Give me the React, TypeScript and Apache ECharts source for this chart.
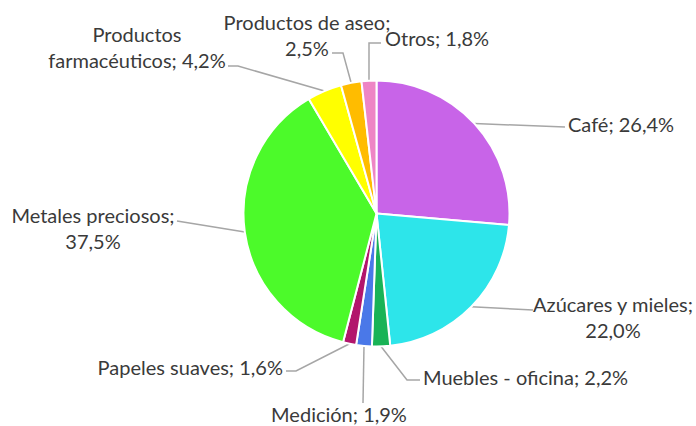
import React, { useEffect, useRef } from "react";
import * as echarts from "echarts";

const categories = [
  "Café",
  "Azúcares y mieles",
  "Muebles - oficina",
  "Medición",
  "Papeles suaves",
  "Metales preciosos",
  "Productos farmacéuticos",
  "Productos de aseo",
  "Otros",
];
const values = [26.4, 22.0, 2.2, 1.9, 1.6, 37.5, 4.2, 2.5, 1.8];
const labelTexts = [
  "Café; 26,4%",
  "Azúcares y mieles;\n22,0%",
  "Muebles - oficina; 2,2%",
  "Medición; 1,9%",
  "Papeles suaves; 1,6%",
  "Metales preciosos;\n37,5%",
  "Productos\nfarmacéuticos; 4,2%",
  "Productos de aseo;\n2,5%",
  "Otros; 1,8%",
];
const colors = [
  "#C864E8",
  "#2DE5EA",
  "#19B356",
  "#4A78E8",
  "#B2166C",
  "#4CFA2A",
  "#FFFF00",
  "#FFBC00",
  "#EE85C5",
];

// label placement (layout only): anchor x,y, align, line height, extra leader-line points after the slice edge
const labelPlacement: { x: number; y: number; align: string; lh: number; pts: number[][] }[] = [
  { x: 568, y: 124, align: "left", lh: 26, pts: [[565, 127]] },
  { x: 613, y: 317, align: "center", lh: 26, pts: [[533, 310]] },
  { x: 423, y: 377, align: "left", lh: 26, pts: [[407, 380], [420, 380]] },
  { x: 339, y: 414, align: "center", lh: 20, pts: [[363, 403]] },
  { x: 283, y: 367, align: "right", lh: 26, pts: [[296, 371], [286, 371]] },
  { x: 93, y: 228, align: "center", lh: 26, pts: [[177, 221]] },
  { x: 137, y: 47, align: "center", lh: 26, pts: [[238, 66], [228, 66]] },
  { x: 307, y: 35, align: "center", lh: 26, pts: [[343, 53], [332, 53]] },
  { x: 385, y: 38, align: "left", lh: 26, pts: [[369, 43], [381, 43]] },
];

export default function App() {
  const ref = useRef<HTMLDivElement>(null);
  useEffect(() => {
    document.body.style.margin = "0";
    if (!ref.current) return;
    const chart = echarts.init(ref.current, null, { renderer: "svg" });
    chart.setOption({
      animation: false,
      backgroundColor: "#FFFFFF",
      series: [
        {
          type: "pie",
          center: [376.5, 213.5],
          radius: 133,
          startAngle: 90,
          clockwise: true,
          avoidLabelOverlap: false,
          itemStyle: { borderColor: "#FFFFFF", borderWidth: 2 },
          label: {
            show: true,
            color: "#3A3A3A",
            fontFamily: "Lato",
            fontSize: 20,
            lineHeight: 26,
            formatter: (p: any) => labelTexts[p.dataIndex],
          },
          labelLine: {
            show: true,
            length: 10,
            length2: 10,
            lineStyle: { color: "#A6A6A6", width: 1.5 },
          },
          labelLayout: (params: any) => {
            const lp = labelPlacement[params.dataIndex];
            const start = params.labelLinePoints ? params.labelLinePoints[0] : lp.pts[0];
            return {
              x: lp.x,
              y: lp.y,
              align: lp.align,
              verticalAlign: "middle",
              labelLinePoints: [start, ...lp.pts],
            };
          },
          data: categories.map((name, i) => ({
            name,
            value: values[i],
            itemStyle: { color: colors[i] },
            label: { lineHeight: labelPlacement[i].lh },
          })),
        },
      ],
    });
    return () => chart.dispose();
  }, []);
  return <div ref={ref} style={{ width: 696, height: 426 }} />;
}
